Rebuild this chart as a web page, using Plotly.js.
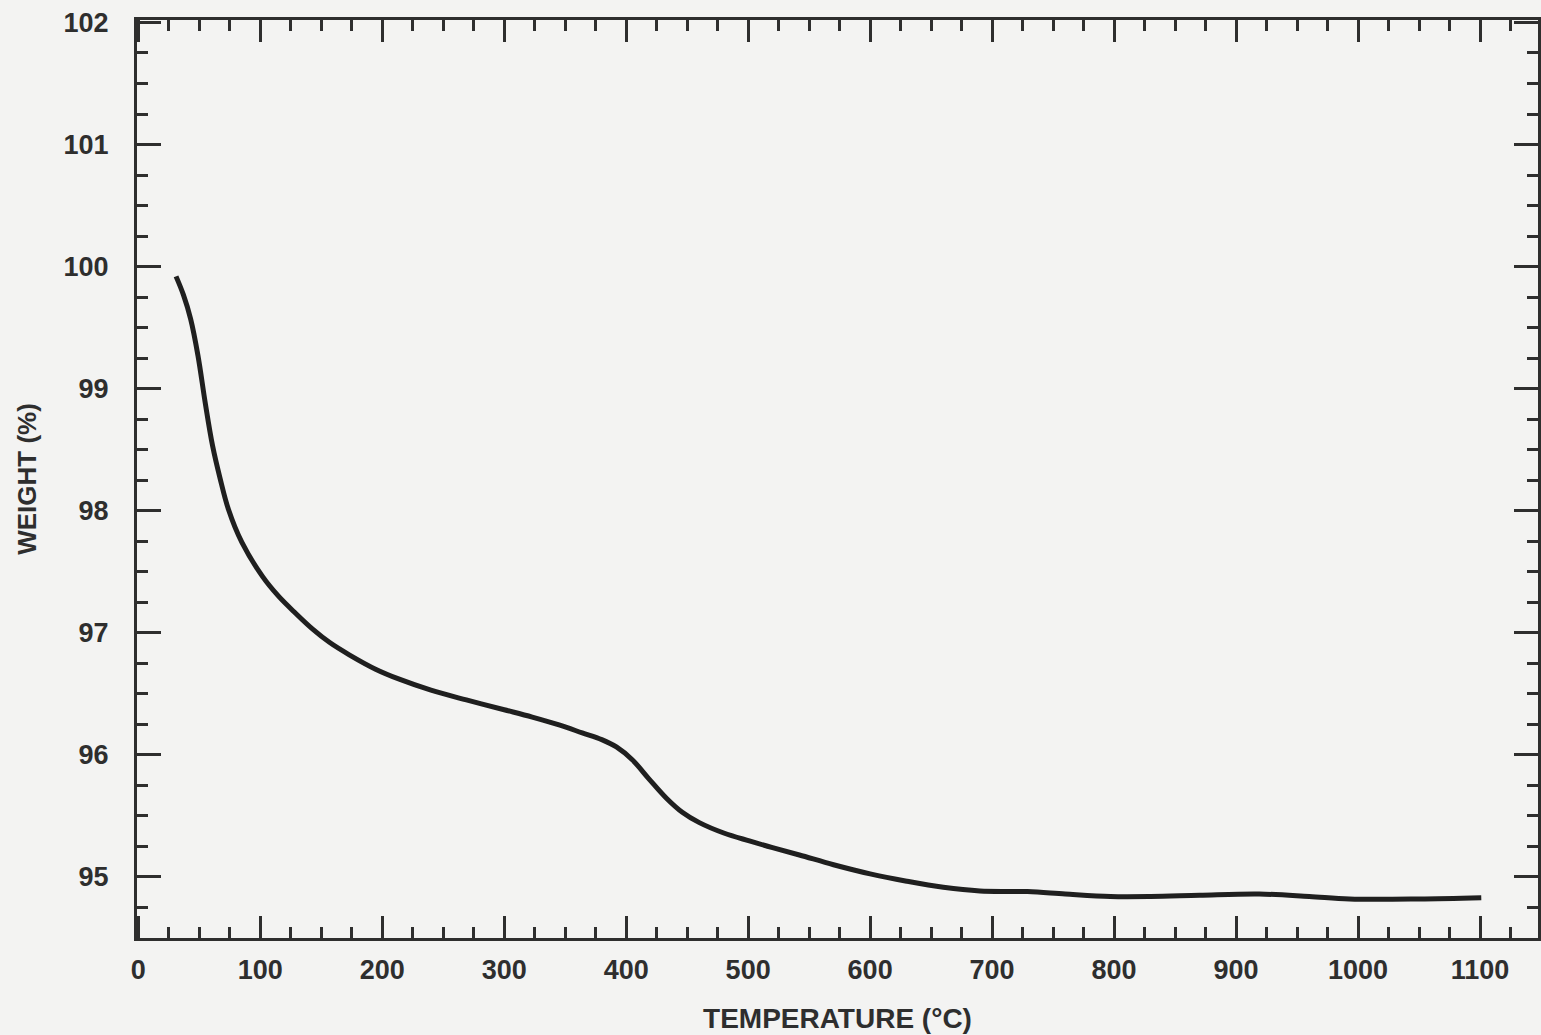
<!DOCTYPE html>
<html>
<head>
<meta charset="utf-8">
<script src="https://cdn.plot.ly/plotly-3.0.1.min.js"></script>
<style>
  html, body { margin: 0; padding: 0; background: #f3f3f2; }
  #chart { width: 1541px; height: 1035px; }
</style>
</head>
<body>
<div id="chart"></div>
<script>
// Temperature (°C)
const temperature = [31, 37, 43, 49, 55, 61, 67, 74, 85, 102, 115, 129, 143, 157, 173, 195, 214, 240, 269, 300, 323, 345, 364, 380, 392, 405, 419, 433, 446, 460, 480, 501, 520, 542, 570, 600, 630, 660, 690, 729, 760, 797, 830, 870, 919, 960, 993, 1050, 1101];
// Weight (%)
const weight = [99.92, 99.77, 99.57, 99.27, 98.88, 98.53, 98.27, 98.01, 97.74, 97.46, 97.30, 97.16, 97.03, 96.92, 96.82, 96.70, 96.62, 96.53, 96.45, 96.37, 96.31, 96.245, 96.18, 96.125, 96.065, 95.96, 95.80, 95.645, 95.53, 95.445, 95.36, 95.295, 95.24, 95.18, 95.10, 95.025, 94.965, 94.915, 94.885, 94.88, 94.86, 94.84, 94.84, 94.85, 94.86, 94.84, 94.82, 94.82, 94.83];

const xTickVals = [0, 100, 200, 300, 400, 500, 600, 700, 800, 900, 1000, 1100];
const xTickText = ['0', '100', '200', '300', '400', '500', '600', '700', '800', '900', '1000', '1100'];
const yTickVals = [95, 96, 97, 98, 99, 100, 101, 102];
const yTickText = ['95', '96', '97', '98', '99', '100', '101', '102'];

const ink = '#2e2e2e';
const tickFont = { family: 'Liberation Sans, Arial, sans-serif', size: 27, color: ink, weight: 'bold' };

const trace = {
  x: temperature,
  y: weight,
  type: 'scatter',
  mode: 'lines',
  line: { color: '#1f1f1f', width: 5, shape: 'spline', smoothing: 1 },
  hoverinfo: 'skip'
};

const layout = {
  width: 1541,
  height: 1035,
  margin: { l: 137, r: 3, t: 20, b: 97 },
  paper_bgcolor: '#f3f3f2',
  plot_bgcolor: '#f3f3f2',
  showlegend: false,
  xaxis: {
    range: [-1, 1147.5],
    tickmode: 'array',
    tickvals: xTickVals,
    ticktext: xTickText,
    ticks: 'inside',
    ticklen: 22,
    tickwidth: 3,
    tickcolor: ink,
    minor: { dtick: 25, tick0: 0, ticks: 'inside', ticklen: 11, tickwidth: 3, tickcolor: ink, showgrid: false },
    showline: true,
    linewidth: 3,
    linecolor: ink,
    mirror: 'allticks',
    showgrid: false,
    zeroline: false,
    tickfont: tickFont,
    ticklabelstandoff: 6,
    title: { text: 'TEMPERATURE (°C)', font: { family: 'Liberation Sans, Arial, sans-serif', size: 28, color: ink, weight: 'bold' }, standoff: 24 }
  },
  yaxis: {
    range: [94.5, 102.02],
    tickmode: 'array',
    tickvals: yTickVals,
    ticktext: yTickText,
    ticks: 'inside',
    ticklen: 24,
    tickwidth: 3,
    tickcolor: ink,
    minor: { dtick: 0.25, tick0: 95, ticks: 'inside', ticklen: 11, tickwidth: 3, tickcolor: ink, showgrid: false },
    showline: true,
    linewidth: 3,
    linecolor: ink,
    mirror: 'allticks',
    showgrid: false,
    zeroline: false,
    tickfont: tickFont,
    ticklabelstandoff: 20,
    title: { text: 'WEIGHT (%)', font: { family: 'Liberation Sans, Arial, sans-serif', size: 26, color: ink, weight: 'bold' }, standoff: 20 }
  }
};

Plotly.newPlot('chart', [trace], layout, { displayModeBar: false, staticPlot: true });
</script>
</body>
</html>
